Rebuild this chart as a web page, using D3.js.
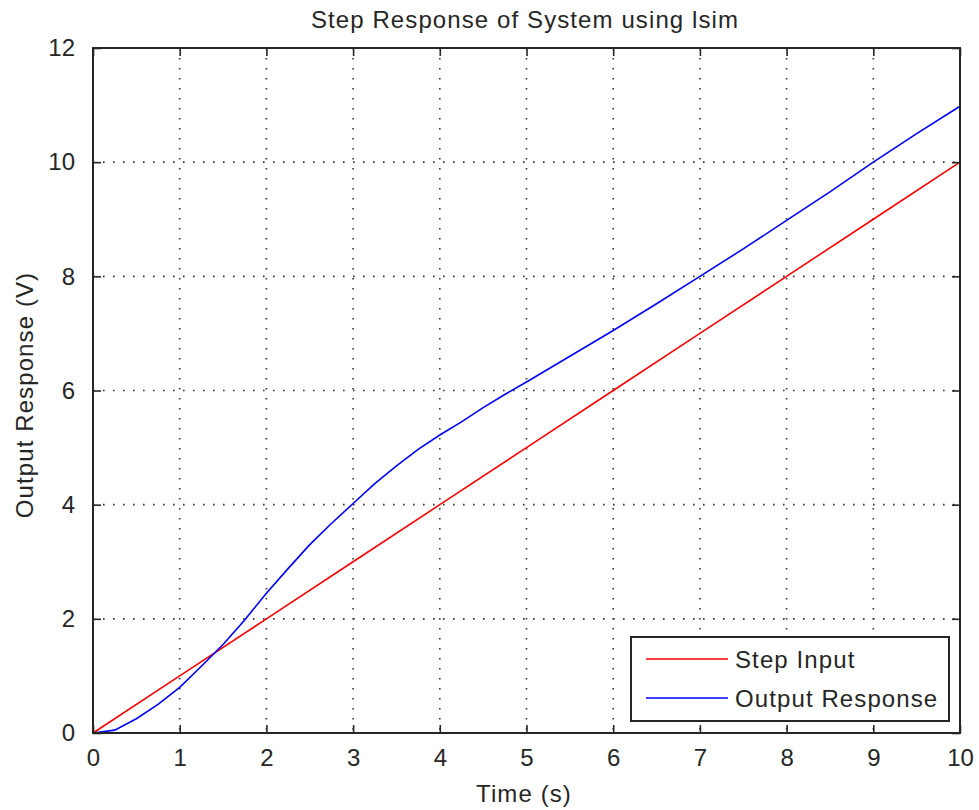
<!DOCTYPE html>
<html>
<head>
<meta charset="utf-8">
<script src="https://cdn.jsdelivr.net/npm/d3@7"></script>
<style>
  html, body { margin: 0; padding: 0; background: #fff; }
  svg { display: block; }
  text { font-family: "Liberation Sans", Arial, sans-serif; fill: #262626; }
  .label { letter-spacing: 1.1px; }
</style>
</head>
<body>
<svg id="chart" width="979" height="810"></svg>
<script>
// Time samples (s)
const timeRamp = [0, 1, 2, 3, 4, 5, 6, 7, 8, 9, 10];
// Ramp input: value equals time
const stepInput = [0, 1, 2, 3, 4, 5, 6, 7, 8, 9, 10];

const timeOut = [0, 0.25, 0.5, 0.75, 1.0, 1.25, 1.5, 1.75, 2.0, 2.25, 2.5, 2.75, 3.0,
  3.25, 3.5, 3.75, 4.0, 4.25, 4.5, 4.75, 5.0, 5.5, 6.0, 6.5, 7.0, 7.5, 8.0, 8.5, 9.0, 9.5, 10.0];
const outputResponse = [0, 0.05, 0.25, 0.5, 0.8, 1.17, 1.55, 1.98, 2.45, 2.88, 3.3, 3.67, 4.02,
  4.37, 4.68, 4.97, 5.22, 5.45, 5.7, 5.93, 6.15, 6.6, 7.05, 7.52, 8.0, 8.48, 8.98, 9.48, 10.0, 10.5, 10.98];

const xTicks = [0, 1, 2, 3, 4, 5, 6, 7, 8, 9, 10];
const yTicks = [0, 2, 4, 6, 8, 10, 12];

const titleText = "Step Response of System using lsim";
const xLabel = "Time (s)";
const yLabel = "Output Response (V)";
const seriesNames = ["Step Input", "Output Response"];
const seriesColors = ["#ff0000", "#0000ff"];

const svg = d3.select("#chart");
const plotLeft = 93, plotRight = 960, plotTop = 48, plotBottom = 733;

const x = d3.scaleLinear().domain([0, 10]).range([plotLeft, plotRight]);
const y = d3.scaleLinear().domain([0, 12]).range([plotBottom, plotTop]);

const axisColor = "#262626";
const fontSize = 24;

// Dotted grid
const grid = svg.append("g");
xTicks.filter(t => t > 0 && t < 10).forEach(t => {
  grid.append("line")
    .attr("x1", x(t)).attr("x2", x(t)).attr("y1", plotTop).attr("y2", plotBottom)
    .attr("stroke", "#333").attr("stroke-width", 1.6).attr("stroke-dasharray", "1.6 8.4");
});
yTicks.filter(t => t > 0 && t < 12).forEach(t => {
  grid.append("line")
    .attr("x1", plotLeft).attr("x2", plotRight).attr("y1", y(t)).attr("y2", y(t))
    .attr("stroke", "#333").attr("stroke-width", 1.6).attr("stroke-dasharray", "1.6 8.4");
});

// Series lines
const line = d3.line();
svg.append("path")
  .attr("d", line(timeRamp.map((t, i) => [x(t), y(stepInput[i])])))
  .attr("fill", "none").attr("stroke", seriesColors[0]).attr("stroke-width", 1.6);
svg.append("path")
  .attr("d", line(timeOut.map((t, i) => [x(t), y(outputResponse[i])])))
  .attr("fill", "none").attr("stroke", seriesColors[1]).attr("stroke-width", 1.6);

// Axes with inward ticks on all four sides
const tickLen = 8;
const bottomAxis = d3.axisBottom(x).tickValues(xTicks).tickSizeInner(-tickLen).tickSizeOuter(0).tickPadding(16);
const leftAxis = d3.axisLeft(y).tickValues(yTicks).tickSizeInner(-tickLen).tickSizeOuter(0).tickPadding(18);
const topAxis = d3.axisTop(x).tickValues(xTicks).tickSizeInner(-tickLen).tickSizeOuter(0).tickFormat("");
const rightAxis = d3.axisRight(y).tickValues(yTicks).tickSizeInner(-tickLen).tickSizeOuter(0).tickFormat("");

function styleAxis(g) {
  g.select(".domain").remove();
  g.selectAll(".tick line").attr("stroke", axisColor).attr("stroke-width", 1.6);
  g.selectAll(".tick text").attr("fill", axisColor).style("font-size", fontSize + "px")
    .style("font-family", "'Liberation Sans', Arial, sans-serif");
}
svg.append("g").attr("transform", `translate(0,${plotBottom})`).call(bottomAxis).call(styleAxis);
svg.append("g").attr("transform", `translate(${plotLeft},0)`).call(leftAxis).call(styleAxis);
svg.append("g").attr("transform", `translate(0,${plotTop})`).call(topAxis).call(styleAxis);
svg.append("g").attr("transform", `translate(${plotRight},0)`).call(rightAxis).call(styleAxis);

// Axes box
svg.append("rect")
  .attr("x", plotLeft).attr("y", plotTop).attr("width", plotRight - plotLeft).attr("height", plotBottom - plotTop)
  .attr("fill", "none").attr("stroke", axisColor).attr("stroke-width", 2);

// Title and axis labels
svg.append("text").attr("class", "label").attr("x", 525).attr("y", 28).attr("text-anchor", "middle")
  .style("font-size", fontSize + "px").text(titleText);
svg.append("text").attr("class", "label").attr("x", 524).attr("y", 802).attr("text-anchor", "middle")
  .style("font-size", fontSize + "px").text(xLabel);
svg.append("text").attr("class", "label").attr("transform", "translate(33,395) rotate(-90)").attr("text-anchor", "middle")
  .style("font-size", fontSize + "px").text(yLabel);

// Legend
const legend = svg.append("g");
legend.append("rect").attr("x", 631).attr("y", 637).attr("width", 318).attr("height", 84)
  .attr("fill", "#fff").attr("stroke", axisColor).attr("stroke-width", 2);
const legendRows = [659, 698];
seriesNames.forEach((name, i) => {
  legend.append("line").attr("x1", 646).attr("x2", 728).attr("y1", legendRows[i]).attr("y2", legendRows[i])
    .attr("stroke", seriesColors[i]).attr("stroke-width", 1.6);
  legend.append("text").attr("class", "label").attr("x", 735).attr("y", legendRows[i] + 9)
    .style("font-size", fontSize + "px").text(name);
});
</script>
</body>
</html>
